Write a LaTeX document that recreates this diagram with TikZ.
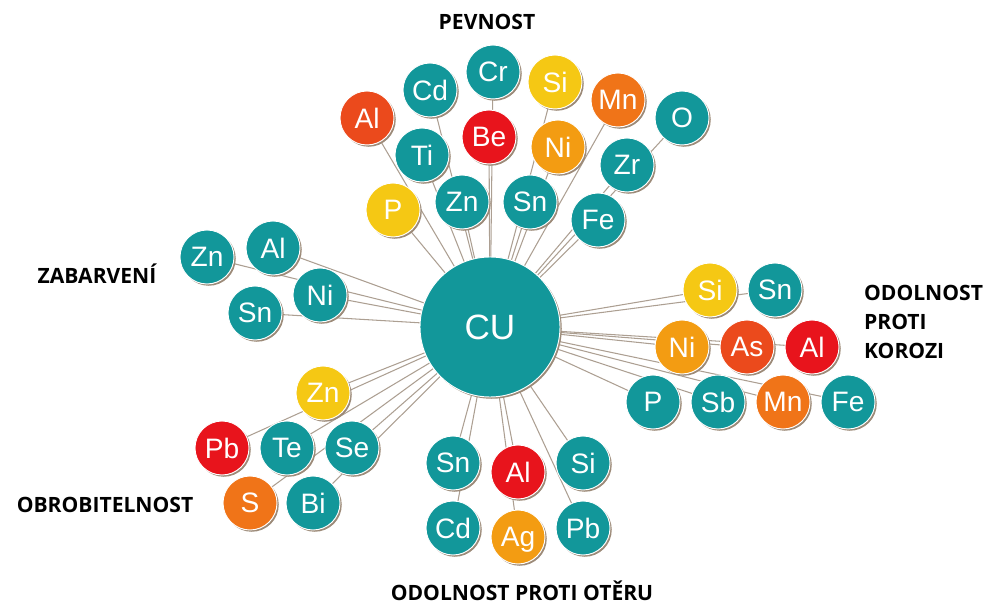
\documentclass[tikz,border=0pt]{standalone}
\usepackage{fontspec}
\setmainfont{Liberation Sans}
\newfontfamily\groupfont{Open Sans}
\usetikzlibrary{shadows}
\pgfdeclarelayer{background}
\pgfsetlayers{background,main}
\definecolor{cuteal}{HTML}{12979A}
\definecolor{elred}{HTML}{E8141C}
\definecolor{elredorange}{HTML}{EB4A1C}
\definecolor{elorange}{HTML}{F07418}
\definecolor{elamber}{HTML}{F39C12}
\definecolor{elyellow}{HTML}{F5C814}
\definecolor{shadowbrown}{HTML}{9C8A78}
\definecolor{linkgray}{HTML}{AC9F92}

\begin{document}
\begin{tikzpicture}[x=0.3mm,y=-0.3mm,
  element/.style={circle,draw=white,line width=0.8pt,minimum size=16.2mm,inner sep=0pt,text=white,text depth=0pt,font=\fontsize{24}{24}\selectfont,drop shadow={shadow xshift=1.5pt,shadow yshift=-1.5pt,fill=shadowbrown,opacity=1}},
  teal/.style={element,fill=cuteal},
  red/.style={element,fill=elred},
  redorange/.style={element,fill=elredorange},
  orange/.style={element,fill=elorange},
  amber/.style={element,fill=elamber},
  yellow/.style={element,fill=elyellow},
  base/.style={element,fill=cuteal,minimum size=42mm,font=\fontsize{30}{30}\selectfont},
  link/.style={draw=linkgray,line width=0.9pt},
  group/.style={font=\groupfont\bfseries\fontsize{18}{25}\selectfont,text=black}]
\useasboundingbox (0,0) rectangle (996,605);

\node[base] (cu) at (490,327) {CU};

\node[redorange] (pAl) at (367,118) {Al};
\node[teal] (pCd) at (430,90) {Cd};
\node[teal] (pCr) at (493,72) {Cr};
\node[yellow] (pSi) at (555,82) {Si};
\node[orange] (pMn) at (618,100) {Mn};
\node[teal] (pO) at (682,118) {O};
\node[teal] (pTi) at (422,155) {Ti};
\node[red] (pBe) at (489,137) {Be};
\node[amber] (pNi) at (558,147) {Ni};
\node[teal] (pZr) at (627,165) {Zr};
\node[yellow] (pP) at (393,210) {P};
\node[teal] (pZn) at (462,202) {Zn};
\node[teal] (pSn) at (530,202) {Sn};
\node[teal] (pFe) at (598,220) {Fe};
\node[group] (pevnost) at (487,22) {PEVNOST};

\node[teal] (zZn) at (207,257) {Zn};
\node[teal] (zAl) at (273,248) {Al};
\node[teal] (zNi) at (320,295) {Ni};
\node[teal] (zSn) at (255,313) {Sn};
\node[group] (zabarveni) at (97,274) {ZABARVENÍ};

\node[yellow] (oZn) at (323,393) {Zn};
\node[red] (oPb) at (222,448) {Pb};
\node[teal] (oTe) at (287,448) {Te};
\node[teal] (oSe) at (352,448) {Se};
\node[orange] (oS) at (250,503) {S};
\node[teal] (oBi) at (313,503) {Bi};
\node[group] (obrobitelnost) at (105,505) {OBROBITELNOST};

\node[teal] (tSn) at (453,463) {Sn};
\node[red] (tAl) at (518,472) {Al};
\node[teal] (tSi) at (583,463) {Si};
\node[teal] (tCd) at (453,528) {Cd};
\node[amber] (tAg) at (518,537) {Ag};
\node[teal] (tPb) at (583,528) {Pb};
\node[group,anchor=base] (oteru) at (522,601) {ODOLNOST PROTI OTĚRU};

\node[yellow] (kSi) at (710,290) {Si};
\node[teal] (kSn) at (775,290) {Sn};
\node[amber] (kNi) at (682,347) {Ni};
\node[redorange] (kAs) at (747,347) {As};
\node[red] (kAl) at (812,347) {Al};
\node[teal] (kP) at (653,402) {P};
\node[teal] (kSb) at (718,402) {Sb};
\node[orange] (kMn) at (783,402) {Mn};
\node[teal] (kFe) at (848,402) {Fe};
\node[group,anchor=west,align=left] (korozi) at (860,322) {ODOLNOST\\PROTI\\KOROZI};

\begin{pgfonlayer}{background}
\draw[link] (cu.center) -- (pAl.center);
\draw[link] (cu.center) -- (pCd.center);
\draw[link] (cu.center) -- (pCr.center);
\draw[link] (cu.center) -- (pSi.center);
\draw[link] (cu.center) -- (pMn.center);
\draw[link] (cu.center) -- (pO.center);
\draw[link] (cu.center) -- (pTi.center);
\draw[link] (cu.center) -- (pBe.center);
\draw[link] (cu.center) -- (pNi.center);
\draw[link] (cu.center) -- (pZr.center);
\draw[link] (cu.center) -- (pP.center);
\draw[link] (cu.center) -- (pZn.center);
\draw[link] (cu.center) -- (pSn.center);
\draw[link] (cu.center) -- (pFe.center);
\draw[link] (cu.center) -- (zZn.center);
\draw[link] (cu.center) -- (zAl.center);
\draw[link] (cu.center) -- (zNi.center);
\draw[link] (cu.center) -- (zSn.center);
\draw[link] (cu.center) -- (oZn.center);
\draw[link] (cu.center) -- (oPb.center);
\draw[link] (cu.center) -- (oTe.center);
\draw[link] (cu.center) -- (oSe.center);
\draw[link] (cu.center) -- (oS.center);
\draw[link] (cu.center) -- (oBi.center);
\draw[link] (cu.center) -- (tSn.center);
\draw[link] (cu.center) -- (tAl.center);
\draw[link] (cu.center) -- (tSi.center);
\draw[link] (cu.center) -- (tCd.center);
\draw[link] (cu.center) -- (tAg.center);
\draw[link] (cu.center) -- (tPb.center);
\draw[link] (cu.center) -- (kSi.center);
\draw[link] (cu.center) -- (kSn.center);
\draw[link] (cu.center) -- (kNi.center);
\draw[link] (cu.center) -- (kAs.center);
\draw[link] (cu.center) -- (kAl.center);
\draw[link] (cu.center) -- (kP.center);
\draw[link] (cu.center) -- (kSb.center);
\draw[link] (cu.center) -- (kMn.center);
\draw[link] (cu.center) -- (kFe.center);
\end{pgfonlayer}
\end{tikzpicture}
\end{document}
